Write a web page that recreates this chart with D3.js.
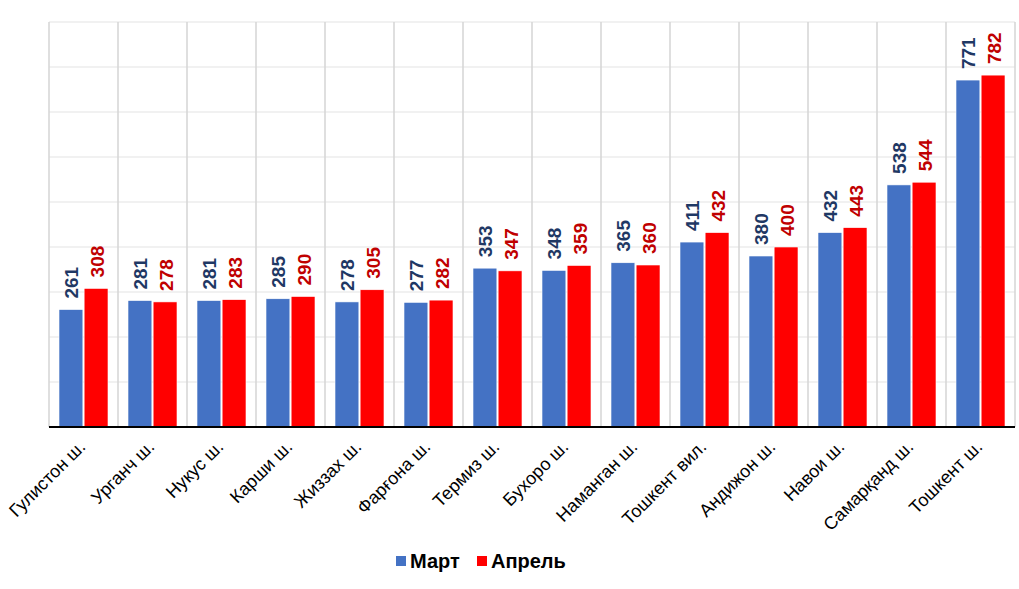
<!DOCTYPE html>
<html>
<head>
<meta charset="utf-8">
<script src="https://d3js.org/d3.v7.min.js"></script>
<style>
  body { margin: 0; background: #fff; }
  text { font-family: "Liberation Sans", Arial, sans-serif; }
</style>
</head>
<body>
<script>
  // chart data
  const cities = ["Гулистон ш.", "Урганч ш.", "Нукус ш.", "Карши ш.", "Жиззах ш.", "Фарғона ш.",
                  "Термиз ш.", "Бухоро ш.", "Наманган ш.", "Тошкент вил.", "Андижон ш.", "Навои ш.",
                  "Самарқанд ш.", "Тошкент ш."];
  const march = [261, 281, 281, 285, 278, 277, 353, 348, 365, 411, 380, 432, 538, 771];
  const april = [308, 278, 283, 290, 305, 282, 347, 359, 360, 432, 400, 443, 544, 782];
  const seriesNames = ["Март", "Апрель"];
  const yTicks = [0, 100, 200, 300, 400, 500, 600, 700, 800, 900];

  const W = 1019, H = 589;
  const mLeft = 49, mRight = 1015, mTop = 22, mBottom = 427;

  const svg = d3.select("body").append("svg")
      .attr("width", W)
      .attr("height", H);

  let x = d3.scaleBand()
      .domain(cities)
      .range([mLeft, mRight]);

  let y = d3.scaleLinear()
      .domain([0, 900])
      .range([mBottom, mTop]);

  let inner = d3.scaleBand()
      .domain(seriesNames)
      .range([10, x.bandwidth() - 10])
      .paddingInner(0.05);

  // horizontal grid
  svg.append("g").selectAll("line")
      .data(yTicks.slice(1))
      .join("line")
        .attr("x1", mLeft).attr("x2", mRight)
        .attr("y1", d => y(d)).attr("y2", d => y(d))
        .attr("stroke", "#e3e3e3").attr("stroke-width", 1.2);

  // vertical grid at category boundaries
  const bounds = cities.map(c => x(c)).concat([mRight]);
  svg.append("g").selectAll("line")
      .data(bounds)
      .join("line")
        .attr("x1", d => d).attr("x2", d => d)
        .attr("y1", mTop).attr("y2", mBottom)
        .attr("stroke", "#d4d4d4").attr("stroke-width", 1.5);

  const colors = { "Март": "#4472C4", "Апрель": "#FF0000" };
  const labelColors = { "Март": "#1F3864", "Апрель": "#C00000" };

  const rows = cities.map((c, i) => ({ city: c, vals: [
      { s: "Март", v: march[i] }, { s: "Апрель", v: april[i] } ] }));

  const groups = svg.append("g").selectAll("g")
      .data(rows)
      .join("g")
        .attr("transform", d => `translate(${x(d.city)},0)`);

  groups.selectAll("rect")
      .data(d => d.vals)
      .join("rect")
        .attr("x", d => inner(d.s))
        .attr("y", d => y(d.v))
        .attr("width", inner.bandwidth())
        .attr("height", d => mBottom - y(d.v))
        .attr("fill", d => colors[d.s])
        .attr("stroke", "#fff")
        .attr("stroke-width", 0.6);

  groups.selectAll("text")
      .data(d => d.vals)
      .join("text")
        .attr("transform", d => `translate(${inner(d.s) + inner.bandwidth() / 2 + 7.5},${y(d.v) - 11}) rotate(-90)`)
        .attr("text-anchor", "start")
        .attr("font-size", 19)
        .attr("font-weight", "bold")
        .attr("fill", d => labelColors[d.s])
        .text(d => d.v);

  // x axis line
  svg.append("line")
      .attr("x1", mLeft).attr("x2", mRight)
      .attr("y1", mBottom).attr("y2", mBottom)
      .attr("stroke", "#000").attr("stroke-width", 2);

  // category labels
  svg.append("g").selectAll("text")
      .data(cities)
      .join("text")
        .attr("transform", d => `translate(${x(d) + x.bandwidth() / 2 + 3},448) rotate(-45)`)
        .attr("text-anchor", "end")
        .attr("font-size", 18)
        .attr("fill", "#000")
        .text(d => d);

  // legend
  const legend = svg.append("g").attr("transform", "translate(396,561)");
  const legX = [0, 81];
  seriesNames.forEach((s, i) => {
    legend.append("rect")
        .attr("x", legX[i]).attr("y", -5)
        .attr("width", 10).attr("height", 10)
        .attr("fill", colors[s]);
    legend.append("text")
        .attr("x", legX[i] + 14).attr("y", 7)
        .attr("font-size", 20)
        .attr("font-weight", "bold")
        .text(s);
  });
</script>
</body>
</html>
